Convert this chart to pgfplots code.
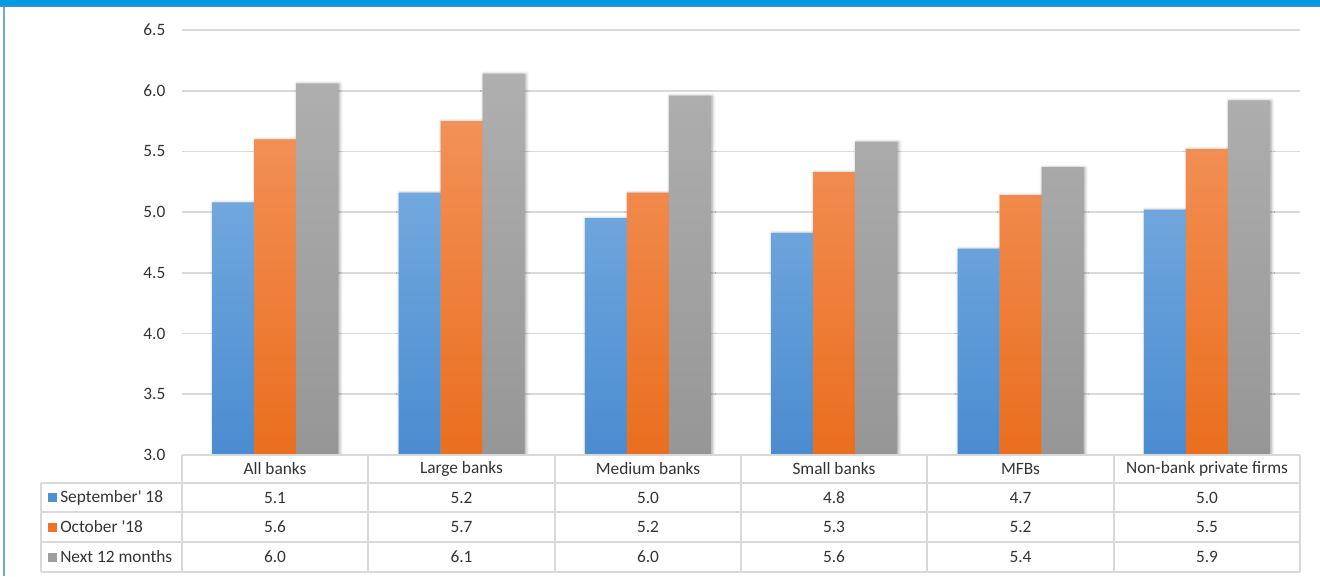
\documentclass[border=0pt]{standalone}
\usepackage{fontspec}
\setmainfont{Carlito}[Ligatures=TeXOff]
\usepackage{pgfplots}
\pgfplotsset{compat=1.18}
\usetikzlibrary{shadows.blur}
\definecolor{bTop}{HTML}{72A8DE}
\definecolor{bBot}{HTML}{4A8CD0}
\definecolor{oTop}{HTML}{F29158}
\definecolor{oBot}{HTML}{EA6E1E}
\definecolor{gTop}{HTML}{AFAFAF}
\definecolor{gBot}{HTML}{969696}
\definecolor{gridc}{HTML}{D9D9D9}
\definecolor{txt}{HTML}{333333}
\definecolor{band}{HTML}{009EE0}
\definecolor{bandb}{HTML}{3A8FDA}
\definecolor{lft}{HTML}{6FA8DC}
\begin{document}
\begin{tikzpicture}[x=0.75pt,y=0.75pt,font=\fontsize{13}{15}\selectfont]
\path[use as bounding box] (0,0) rectangle (1320,576);
% frame
\fill[band] (0,570) rectangle (1320,576);
\fill[bandb] (0,569) rectangle (1320,570.5);
\draw[lft,line width=1.2pt] (4,0) -- (4,569);
\begin{axis}[
  at={(136.5pt,90.75pt)}, anchor=south west,
  scale only axis, width=838.5pt, height=318.75pt,
  xmin=-0.5, xmax=5.5, ymin=3, ymax=6.5,
  ytick={3,3.5,...,6.5},
  yticklabel style={/pgf/number format/fixed,/pgf/number format/fixed zerofill,/pgf/number format/precision=1, text=txt, xshift=-9pt},
  /pgf/number format/assume math mode=true,
  xtick=\empty,
  axis line style={draw=none},
  major tick length=0pt,
  ymajorgrids, grid style={gridc, line width=1.2pt},
  ybar=0pt, bar width=31.5pt,
  tick label style={font=\fontsize{13}{15}\selectfont},
]
% shadows
\addplot[bar shift=-31.5pt, draw=none, fill=none, blur shadow={shadow xshift=1pt, shadow yshift=-0.5pt, shadow blur radius=2.5pt, shadow opacity=40}] coordinates {(0,5.08) (1,5.16) (2,4.95) (3,4.83) (4,4.70) (5,5.02)};
\addplot[bar shift=0pt, draw=none, fill=none, blur shadow={shadow xshift=1pt, shadow yshift=-0.5pt, shadow blur radius=2.5pt, shadow opacity=40}] coordinates {(0,5.60) (1,5.75) (2,5.16) (3,5.33) (4,5.14) (5,5.52)};
\addplot[bar shift=31.5pt, draw=none, fill=none, blur shadow={shadow xshift=1pt, shadow yshift=-0.5pt, shadow blur radius=2.5pt, shadow opacity=40}] coordinates {(0,6.06) (1,6.14) (2,5.96) (3,5.58) (4,5.37) (5,5.92)};
% bars
\addplot[bar shift=-31.5pt, draw=none, top color=bTop, bottom color=bBot] coordinates {(0,5.08) (1,5.16) (2,4.95) (3,4.83) (4,4.70) (5,5.02)};
\addplot[bar shift=0pt, draw=none, top color=oTop, bottom color=oBot] coordinates {(0,5.60) (1,5.75) (2,5.16) (3,5.33) (4,5.14) (5,5.52)};
\addplot[bar shift=31.5pt, draw=none, top color=gTop, bottom color=gBot] coordinates {(0,6.06) (1,6.14) (2,5.96) (3,5.58) (4,5.37) (5,5.92)};
\end{axis}
% table
\begin{scope}[gridc, line width=1.2pt]
\draw (182,121) -- (1300,121);
\foreach \yy in {93,64,34,4} \draw (41,\yy) -- (1300,\yy);
\draw (41,4) -- (41,93);
\foreach \xx in {182,368,555,741,927,1114,1300} \draw (\xx,4) -- (\xx,121);
\end{scope}
\begin{scope}[text=txt]
\node at (275,107) {All banks};
\node at (461.5,107) {Large banks};
\node at (648,107) {Medium banks};
\node at (834,107) {Small banks};
\node at (1020.5,107) {MFBs};
\node at (1207,107) {Non-bank private firms};
\fill[bBot!85!bTop] (48,74) rectangle (57,83);
\fill[oBot!85!oTop] (48,44.5) rectangle (57,53.5);
\fill[gBot!70!gTop] (48,14.5) rectangle (57,23.5);
\node[anchor=west,inner sep=0pt] at (60,78.5) {September' 18};
\node[anchor=west,inner sep=0pt] at (60,49) {October '18};
\node[anchor=west,inner sep=0pt] at (60,19) {Next 12 months};
\foreach \xx/\v in {275/5.1,461.5/5.2,648/5.0,834/4.8,1020.5/4.7,1207/5.0} \node at (\xx,78.5) {\v};
\foreach \xx/\v in {275/5.6,461.5/5.7,648/5.2,834/5.3,1020.5/5.2,1207/5.5} \node at (\xx,49) {\v};
\foreach \xx/\v in {275/6.0,461.5/6.1,648/6.0,834/5.6,1020.5/5.4,1207/5.9} \node at (\xx,19) {\v};
\end{scope}
\end{tikzpicture}
\end{document}
